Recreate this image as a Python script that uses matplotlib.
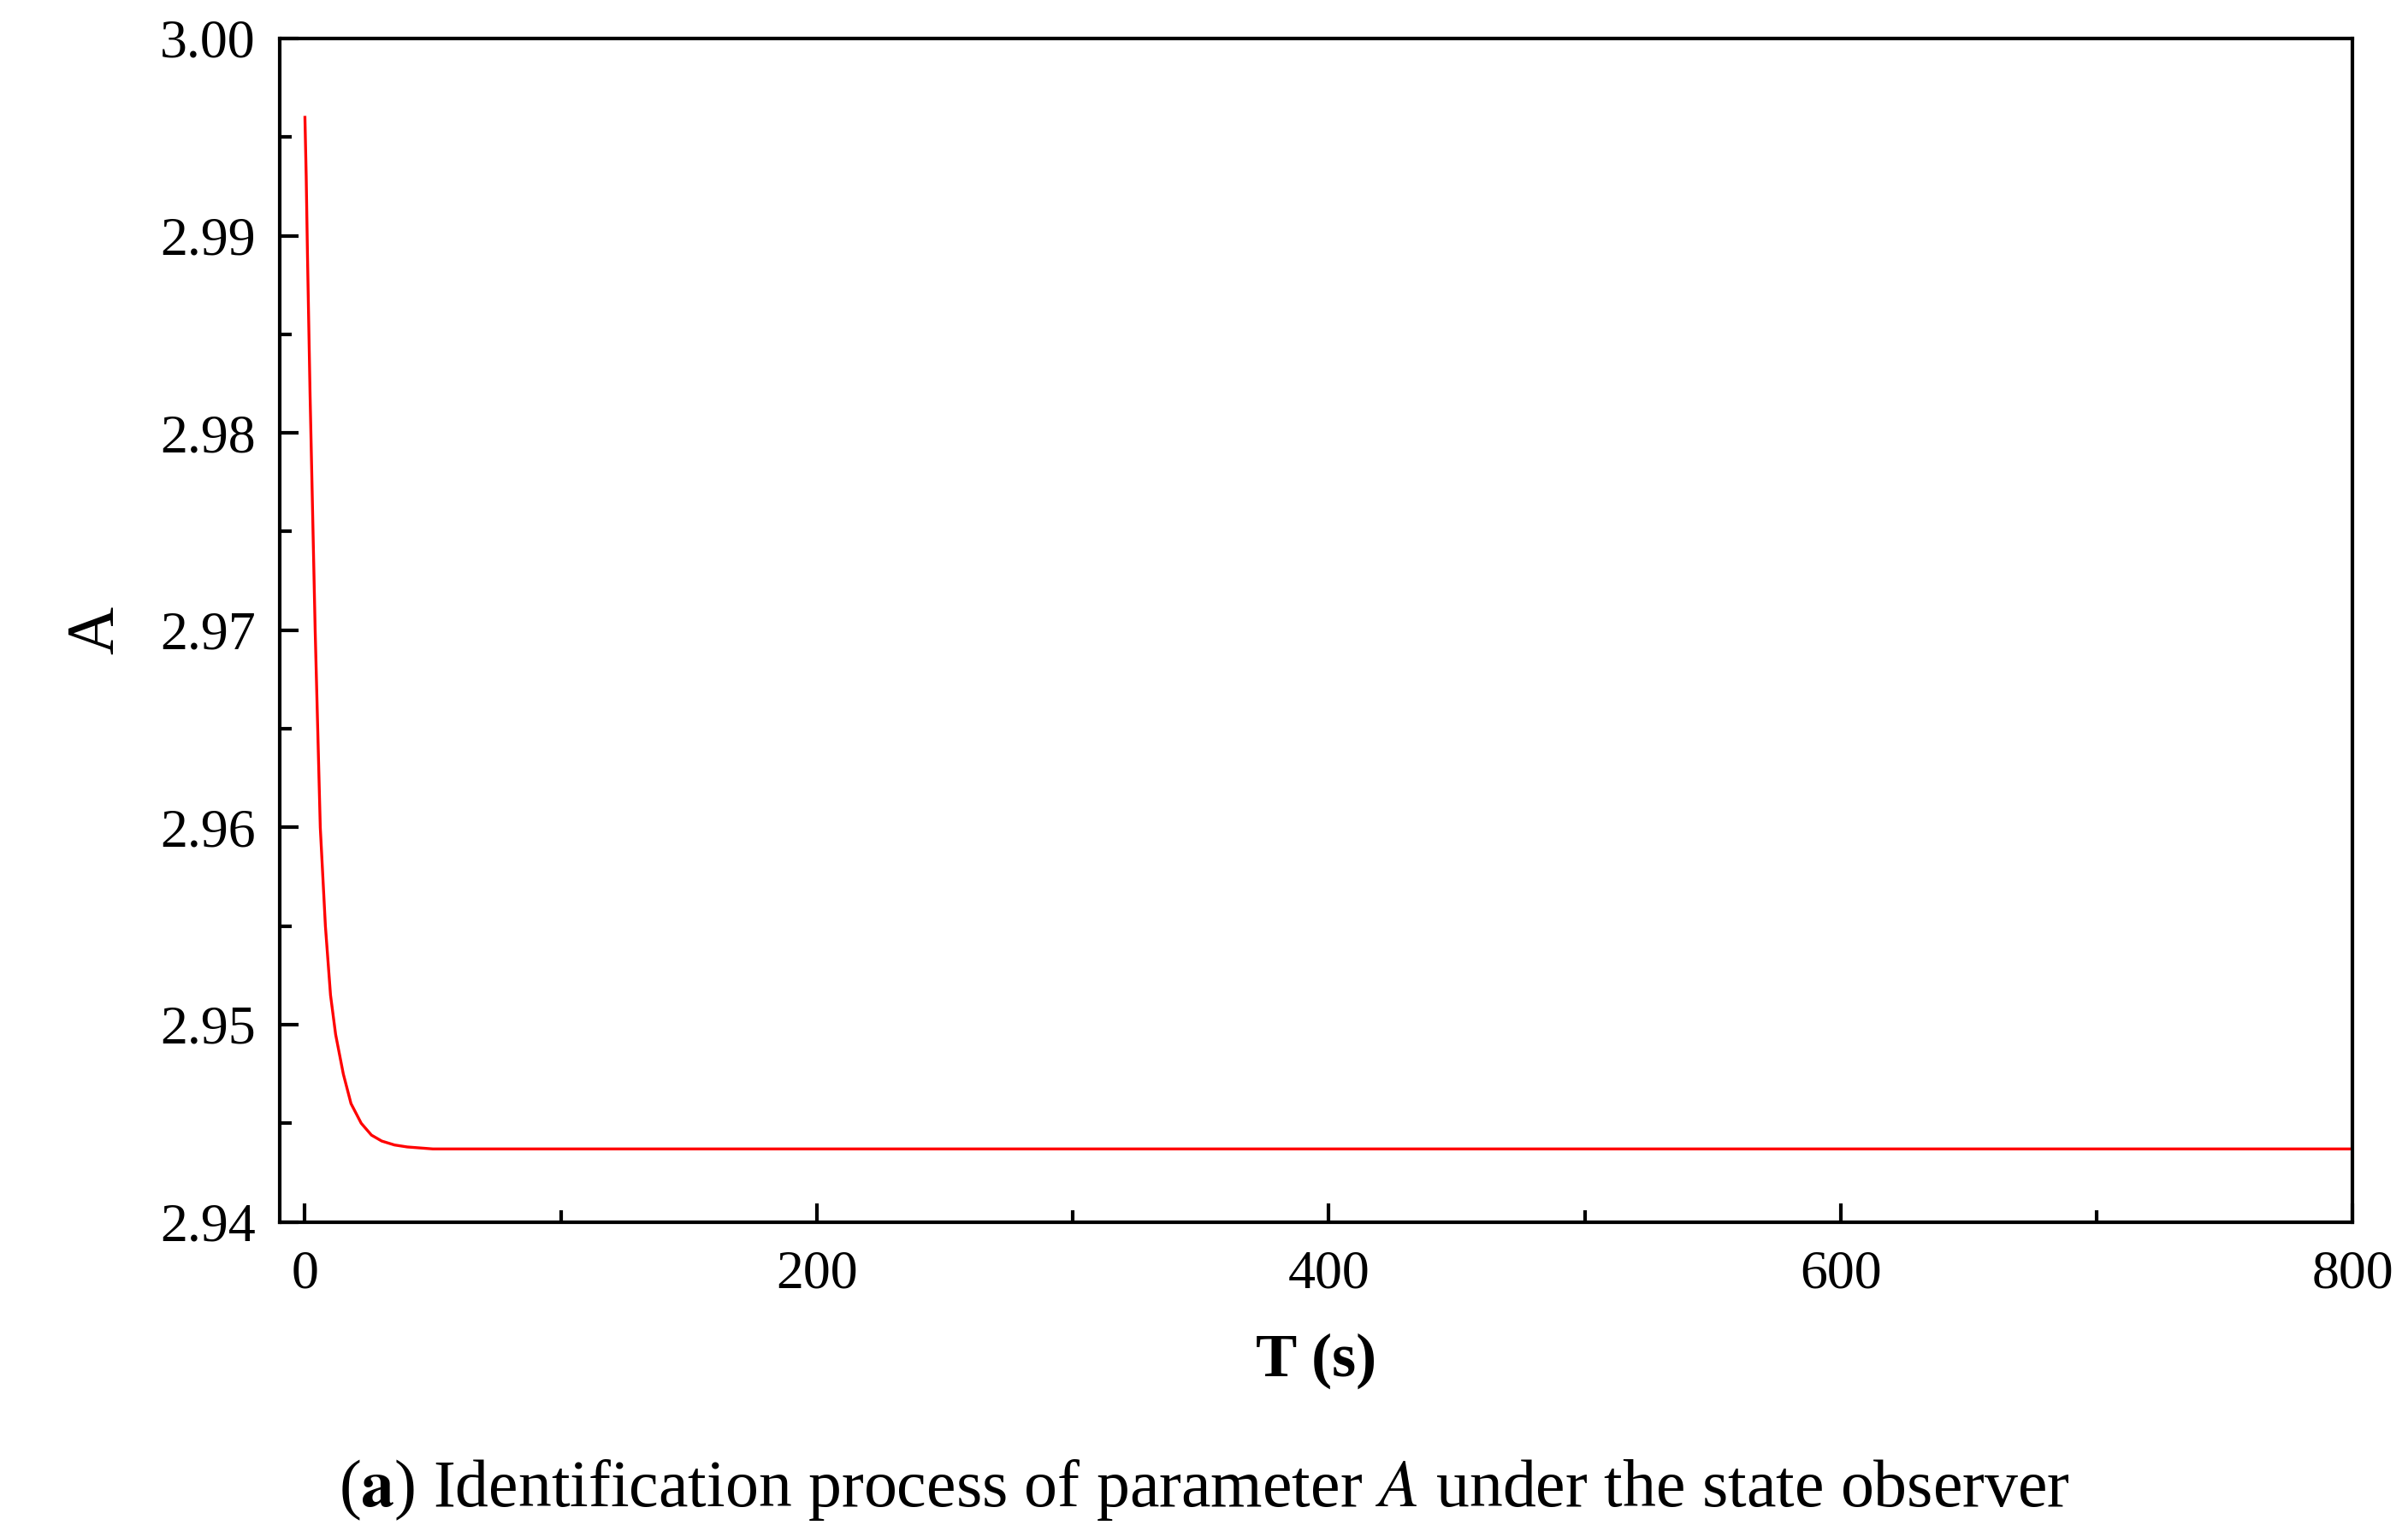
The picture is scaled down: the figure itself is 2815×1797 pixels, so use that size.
import matplotlib
matplotlib.use("Agg")
import matplotlib.pyplot as plt
from matplotlib.ticker import MultipleLocator, FormatStrFormatter

# values
t = [0, 0.5, 1, 2, 3, 4, 5, 6, 8, 10, 12, 15, 18, 22, 26, 30, 35, 40, 50, 60, 100, 200, 400, 600, 800]
A = [2.9960, 2.9930, 2.9890, 2.9820, 2.9760, 2.9700, 2.9650, 2.9600, 2.9550, 2.9515, 2.9495, 2.9475, 2.9460, 2.9450, 2.9444, 2.9441, 2.9439, 2.9438, 2.9437, 2.9437,
     2.9437, 2.9437, 2.9437, 2.9437, 2.9437]

plt.rcParams["font.family"] = ["Liberation Serif", "DejaVu Serif"]
plt.rcParams["mathtext.fontset"] = "stix"
fig = plt.figure(figsize=(14.075, 8.985), dpi=200)
ax = fig.add_axes([0.116, 0.205, 0.861, 0.77])
ax.plot(t, A, color="red", lw=1.2)
ax.set_xlim(-10, 800)
ax.set_ylim(2.94, 3.00)
ax.xaxis.set_major_locator(MultipleLocator(200))
ax.xaxis.set_minor_locator(MultipleLocator(100))
ax.yaxis.set_major_locator(MultipleLocator(0.01))
ax.yaxis.set_minor_locator(MultipleLocator(0.005))
ax.yaxis.set_major_formatter(FormatStrFormatter("%.2f"))
ax.tick_params(which="both", direction="in", labelsize=23, width=1.5, top=False, right=False)
ax.tick_params(which="major", length=8)
ax.tick_params(which="minor", length=5)
ax.tick_params(axis="x", pad=12)
ax.tick_params(axis="y", pad=10)
for s in ax.spines.values():
    s.set_linewidth(1.5)
ax.set_xlabel("T (s)", fontsize=26, fontweight="bold", labelpad=14)
ax.set_ylabel("A", fontsize=28, labelpad=14)
fig.text(0.5, 0.02, r"($\mathbf{a}$) Identification process of parameter $\mathit{A}$ under the state observer",
         ha="center", fontsize=28)
fig.savefig("out.png", dpi=200)
